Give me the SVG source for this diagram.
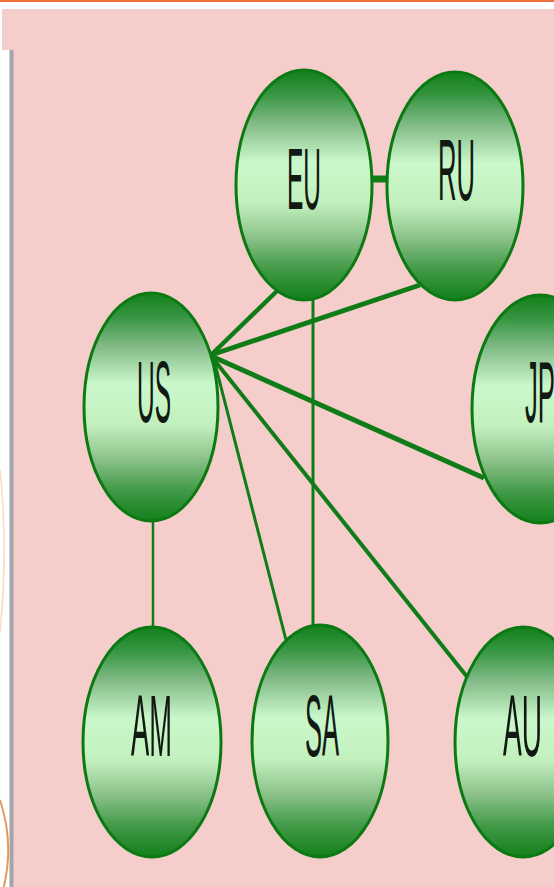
<svg xmlns="http://www.w3.org/2000/svg" width="554" height="887" viewBox="0 0 554 887">
  <style>
    .node { stroke: #0c7a12; stroke-width: 3; fill: url(#g); }
    .lbl { font-family: "Liberation Sans", Arial, sans-serif; font-size: 88px; fill: #121812; }
    .edge { stroke: #0f7c17; stroke-linecap: butt; fill: none; }
  </style>
  <defs>
    <linearGradient id="g" x1="0" y1="0" x2="0" y2="1">
      <stop offset="0" stop-color="#13801b"/>
      <stop offset="0.1" stop-color="#359440"/>
      <stop offset="0.24" stop-color="#85bd8a"/>
      <stop offset="0.4" stop-color="#cbf8cb"/>
      <stop offset="0.58" stop-color="#c2f0bd"/>
      <stop offset="0.72" stop-color="#8fc48d"/>
      <stop offset="0.87" stop-color="#3f9845"/>
      <stop offset="1" stop-color="#13801b"/>
    </linearGradient>
  </defs>

  <!-- background -->
  <rect x="0" y="0" width="554" height="887" fill="#ffffff"/>
  <rect x="0" y="0" width="554" height="2" fill="#f0703c"/>
  <rect x="2" y="9" width="552" height="41" fill="#f5cdcb"/>
  <rect x="13" y="50" width="541" height="837" fill="#f5cdcb"/>
  <rect x="9.5" y="50" width="4" height="837" fill="#a1a5ac"/>
  <path d="M 0 470 A 802 802 0 0 1 0 632" fill="none" stroke="#f6dcc0" stroke-width="1.5"/>
  <path d="M 0 800 A 160 160 0 0 1 0 900" fill="none" stroke="#e39a5c" stroke-width="2"/>

  <g id="connectors">
    <line class="edge" x1="372" y1="179" x2="389" y2="179" stroke-width="7"/>
    <line class="edge" x1="211" y1="355" x2="277" y2="291" stroke-width="4.5"/>
    <line class="edge" x1="211" y1="355" x2="420" y2="285" stroke-width="5"/>
    <line class="edge" x1="211" y1="356" x2="484" y2="478" stroke-width="5"/>
    <line class="edge" x1="211" y1="356" x2="468" y2="678" stroke-width="4"/>
    <line class="edge" x1="212" y1="352" x2="286" y2="640" stroke-width="3"/>
    <line class="edge" x1="313" y1="299" x2="313" y2="626" stroke-width="3"/>
    <line class="edge" x1="153" y1="520" x2="153" y2="628" stroke-width="2.5"/>
  </g>

  <g id="EU">
    <ellipse class="node" cx="304" cy="185" rx="68" ry="115"/>
    <text class="lbl" x="287" y="209" textLength="34" lengthAdjust="spacingAndGlyphs">EU</text>
  </g>
  <g id="RU">
    <ellipse class="node" cx="455" cy="186" rx="68" ry="114"/>
    <text class="lbl" x="438" y="200" textLength="37" lengthAdjust="spacingAndGlyphs">RU</text>
  </g>
  <g id="US">
    <ellipse class="node" cx="151" cy="407" rx="67" ry="114"/>
    <text class="lbl" x="137" y="422" textLength="34" lengthAdjust="spacingAndGlyphs">US</text>
  </g>
  <g id="JP">
    <ellipse class="node" cx="540" cy="409" rx="68" ry="114"/>
    <text class="lbl" x="525" y="422" textLength="30" lengthAdjust="spacingAndGlyphs">JP</text>
  </g>
  <g id="AM">
    <ellipse class="node" cx="152" cy="742" rx="69" ry="115"/>
    <text class="lbl" x="131" y="756" textLength="41" lengthAdjust="spacingAndGlyphs">AM</text>
  </g>
  <g id="SA">
    <ellipse class="node" cx="320" cy="741" rx="68" ry="116"/>
    <text class="lbl" x="305" y="756" textLength="34" lengthAdjust="spacingAndGlyphs">SA</text>
  </g>
  <g id="AU">
    <ellipse class="node" cx="523" cy="742" rx="68" ry="115"/>
    <text class="lbl" x="503" y="756" textLength="39" lengthAdjust="spacingAndGlyphs">AU</text>
  </g>
</svg>
